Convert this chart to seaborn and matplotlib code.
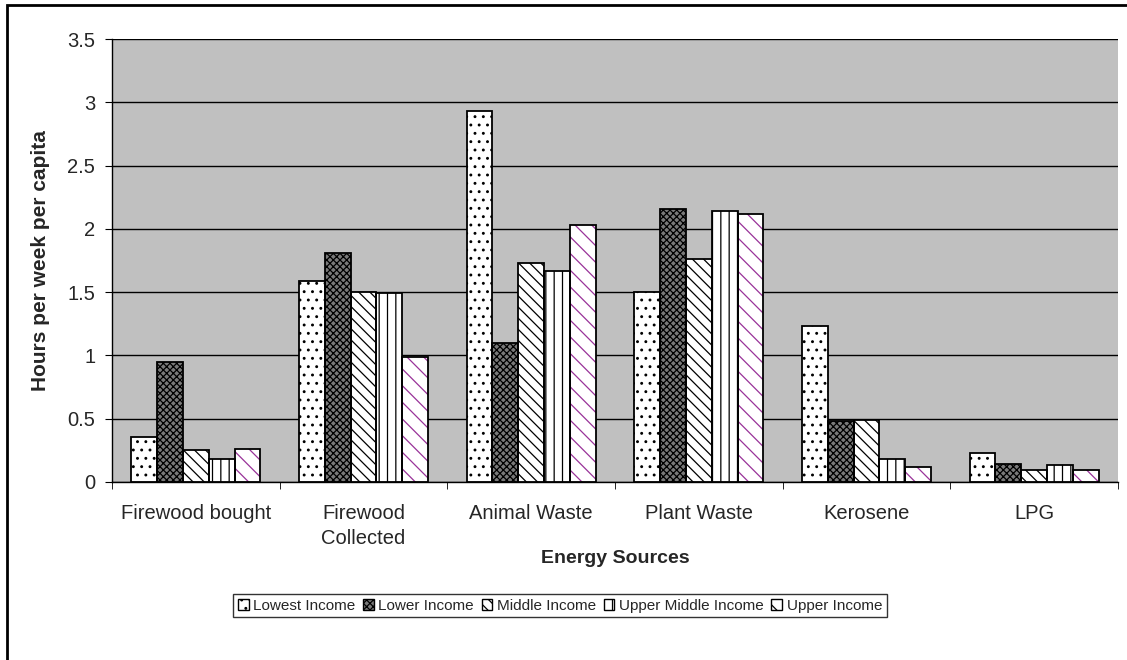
import matplotlib
matplotlib.use('Agg')
import matplotlib.pyplot as plt
import matplotlib.patches as mpatches
import pandas as pd
import seaborn as sns

sources = ['Firewood bought', 'Firewood\nCollected', 'Animal Waste', 'Plant Waste', 'Kerosene', 'LPG']
groups = ['Lowest Income', 'Lower Income', 'Middle Income', 'Upper Middle Income', 'Upper Income']

lowest = [0.355, 1.59, 2.93, 1.50, 1.23, 0.23]
lower = [0.95, 1.81, 1.10, 2.16, 0.48, 0.145]
middle = [0.25, 1.50, 1.73, 1.76, 0.49, 0.095]
upper_middle = [0.185, 1.49, 1.67, 2.14, 0.185, 0.135]
upper = [0.26, 0.99, 2.03, 2.12, 0.12, 0.095]

values = [lowest, lower, middle, upper_middle, upper]
rows = []
for g, vals in zip(groups, values):
    for s, v in zip(sources, vals):
        rows.append({'source': s, 'group': g, 'hours': v})
df = pd.DataFrame(rows)

# style per group: face, hatch, hatch colour
styles = [
    ('white', '..', 'black'),
    ('#7a7a7a', 'xxxxx', 'black'),
    ('white', '\\\\\\', 'black'),
    ('white', '||', 'black'),
    ('white', '\\\\', '#993399'),
]

sns.set_style('white')
plt.rcParams['font.family'] = ['Liberation Sans', 'DejaVu Sans']
plt.rcParams['hatch.linewidth'] = 0.9

fig = plt.figure(figsize=(11.27, 6.6), dpi=100)
ax = fig.add_axes([0.0994, 0.2697, 0.8926, 0.6712])

sns.barplot(data=df, x='source', y='hours', hue='group', order=sources,
            hue_order=groups, width=0.77, ax=ax, legend=False, saturation=1)

n = len(sources)
for i, (face, hatch, hcol) in enumerate(styles):
    for bar in ax.patches[i * n:(i + 1) * n]:
        bar.set_facecolor(face)
        bar.set_hatch(hatch)
        bar.set_edgecolor(hcol)
        bar.set_linewidth(0)
        ax.add_patch(mpatches.Rectangle((bar.get_x(), bar.get_y()), bar.get_width(),
                                        bar.get_height(), fill=False,
                                        edgecolor='black', linewidth=1.3, zorder=3))

ax.set_facecolor('#c0c0c0')
ax.set_ylim(0, 3.5)
ax.set_xlim(-0.5, n - 0.5)
ax.set_yticks([0, 0.5, 1, 1.5, 2, 2.5, 3, 3.5])
ax.set_yticklabels(['0', '0.5', '1', '1.5', '2', '2.5', '3', '3.5'])
ax.yaxis.grid(True, color='black', linewidth=1)
ax.set_axisbelow(True)
ax.set_xticks(range(n))
ax.set_xticklabels(sources, fontsize=14.5, linespacing=1.4)
ax.set_xticks([x - 0.5 for x in range(n + 1)], minor=True)
ax.tick_params(axis='x', which='major', length=0, pad=16)
ax.tick_params(axis='x', which='minor', length=5, color='black', direction='out', bottom=True)
ax.tick_params(axis='y', length=5, color='black', direction='out', left=True,
               labelsize=14.5, pad=7)

for side in ['top', 'right']:
    ax.spines[side].set_visible(False)
for side in ['left', 'bottom']:
    ax.spines[side].set_color('black')
    ax.spines[side].set_linewidth(1)

ax.set_xlabel('Energy Sources', fontsize=14, fontweight='bold', va='center')
ax.xaxis.set_label_coords(0.5, -0.172)
ax.set_ylabel('Hours per week per capita', fontsize=15, fontweight='bold', va='center')
ax.yaxis.set_label_coords(-0.071, 0.5)

handles = []
for g, (face, hatch, hcol) in zip(groups, styles):
    handles.append(mpatches.Patch(facecolor=face, hatch=hatch, edgecolor='black', label=g))
leg = fig.legend(handles=handles, loc='center', bbox_to_anchor=(0.497, 0.082), ncol=5,
                 fontsize=11, frameon=True, fancybox=False, edgecolor='black',
                 handlelength=0.7, handleheight=0.7, handletextpad=0.3,
                 columnspacing=0.5, borderpad=0.3)
leg.get_frame().set_linewidth(1)

# outer chart border (right/bottom run past the image edge)
fig.patches.append(mpatches.Rectangle((7 / 1127, -0.05), 1.2, 1.05 - 5 / 660,
                                      transform=fig.transFigure, fill=False,
                                      edgecolor='black', linewidth=2))

fig.savefig('out.png', dpi=100, facecolor='white')
